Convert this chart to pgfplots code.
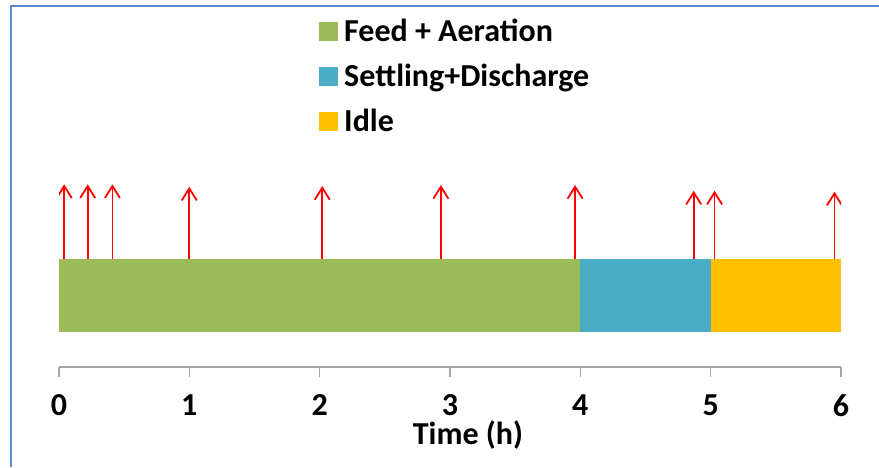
\documentclass[border=0pt]{standalone}
\usepackage{pgfplots}
\pgfplotsset{compat=1.18}
\usepackage{fontspec}
\setmainfont{Carlito}
\usetikzlibrary{arrows.meta}

\definecolor{feedgreen}{HTML}{9BBB59}
\definecolor{settleblue}{HTML}{4BACC6}
\definecolor{idlegold}{HTML}{FFC000}
\definecolor{framebl}{HTML}{5B8BCB}
\definecolor{axisgray}{HTML}{A6A6A6}

% sampling instants: time (h), arrow base, arrow length
\pgfplotstableread{
t    y     v
0.04 108.3 74.4
0.22 108.3 74.4
0.41 108.3 74.4
1.00 108.3 72.0
2.02 108.3 72.7
2.93 108.3 73.7
3.96 108.3 73.7
4.87 108.3 68.0
5.03 108.3 68.0
5.95 108.3 67.0
}\samples

\begin{document}
\begin{tikzpicture}
\useasboundingbox (-59pt,-100pt) rectangle (820pt,367pt);
\begin{axis}[
  at={(0pt,0pt)}, anchor=south west,
  width=782pt, height=367pt, scale only axis,
  xmin=0, xmax=6, ymin=0, ymax=367,
  axis x line*=bottom, axis y line=none,
  xtick={0,1,2,3,4,5,6},
  tick align=outside, major tick length=10pt,
  x axis line style={axisgray, line width=1.2pt, -},
  every tick/.style={axisgray, line width=1.2pt},
  /pgf/number format/assume math mode=true,
  xticklabel style={font=\fontsize{32}{32}\selectfont\bfseries, anchor=center, inner sep=0pt, yshift=-28.5pt},
  xlabel={Time (h)},
  xlabel style={font=\fontsize{32}{32}\selectfont\bfseries, at={(axis description cs:0.523,0)}, anchor=base, inner sep=0pt, yshift=-77.5pt},
  legend cell align=left,
  legend image code/.code={\fill[#1] (0pt,-9.5pt) rectangle (19pt,9.5pt);},
  legend style={at={(axis description cs:0.3325,0.948)}, anchor=north west,
    draw=none, fill=none, inner sep=0pt, row sep=21pt, column sep=6pt,
    nodes={inner sep=0pt, font=\fontsize{32}{32}\selectfont\bfseries}},
]
% cycle phases, 0-4 h, 4-5 h, 5-6 h
\addplot[fill=feedgreen, draw=none] coordinates {(0,35.3) (4,35.3) (4,108.3) (0,108.3)} -- cycle;
\addlegendentry{Feed + Aeration}
\addplot[fill=settleblue, draw=none] coordinates {(4,35.3) (5,35.3) (5,108.3) (4,108.3)} -- cycle;
\addlegendentry{Settling+Discharge}
\addplot[fill=idlegold, draw=none] coordinates {(5,35.3) (6,35.3) (6,108.3) (5,108.3)} -- cycle;
\addlegendentry{Idle}
\addplot[forget plot, red, line width=1.8pt,
  -{Straight Barb[length=12pt, width=15pt]},
  quiver={u=0, v=\thisrow{v}}] table[x=t, y=y] {\samples};
\end{axis}
\draw[framebl, line width=2pt] (-48pt,-100pt) -- (-48pt,361pt) -- (820pt,361pt);
\end{tikzpicture}
\end{document}
